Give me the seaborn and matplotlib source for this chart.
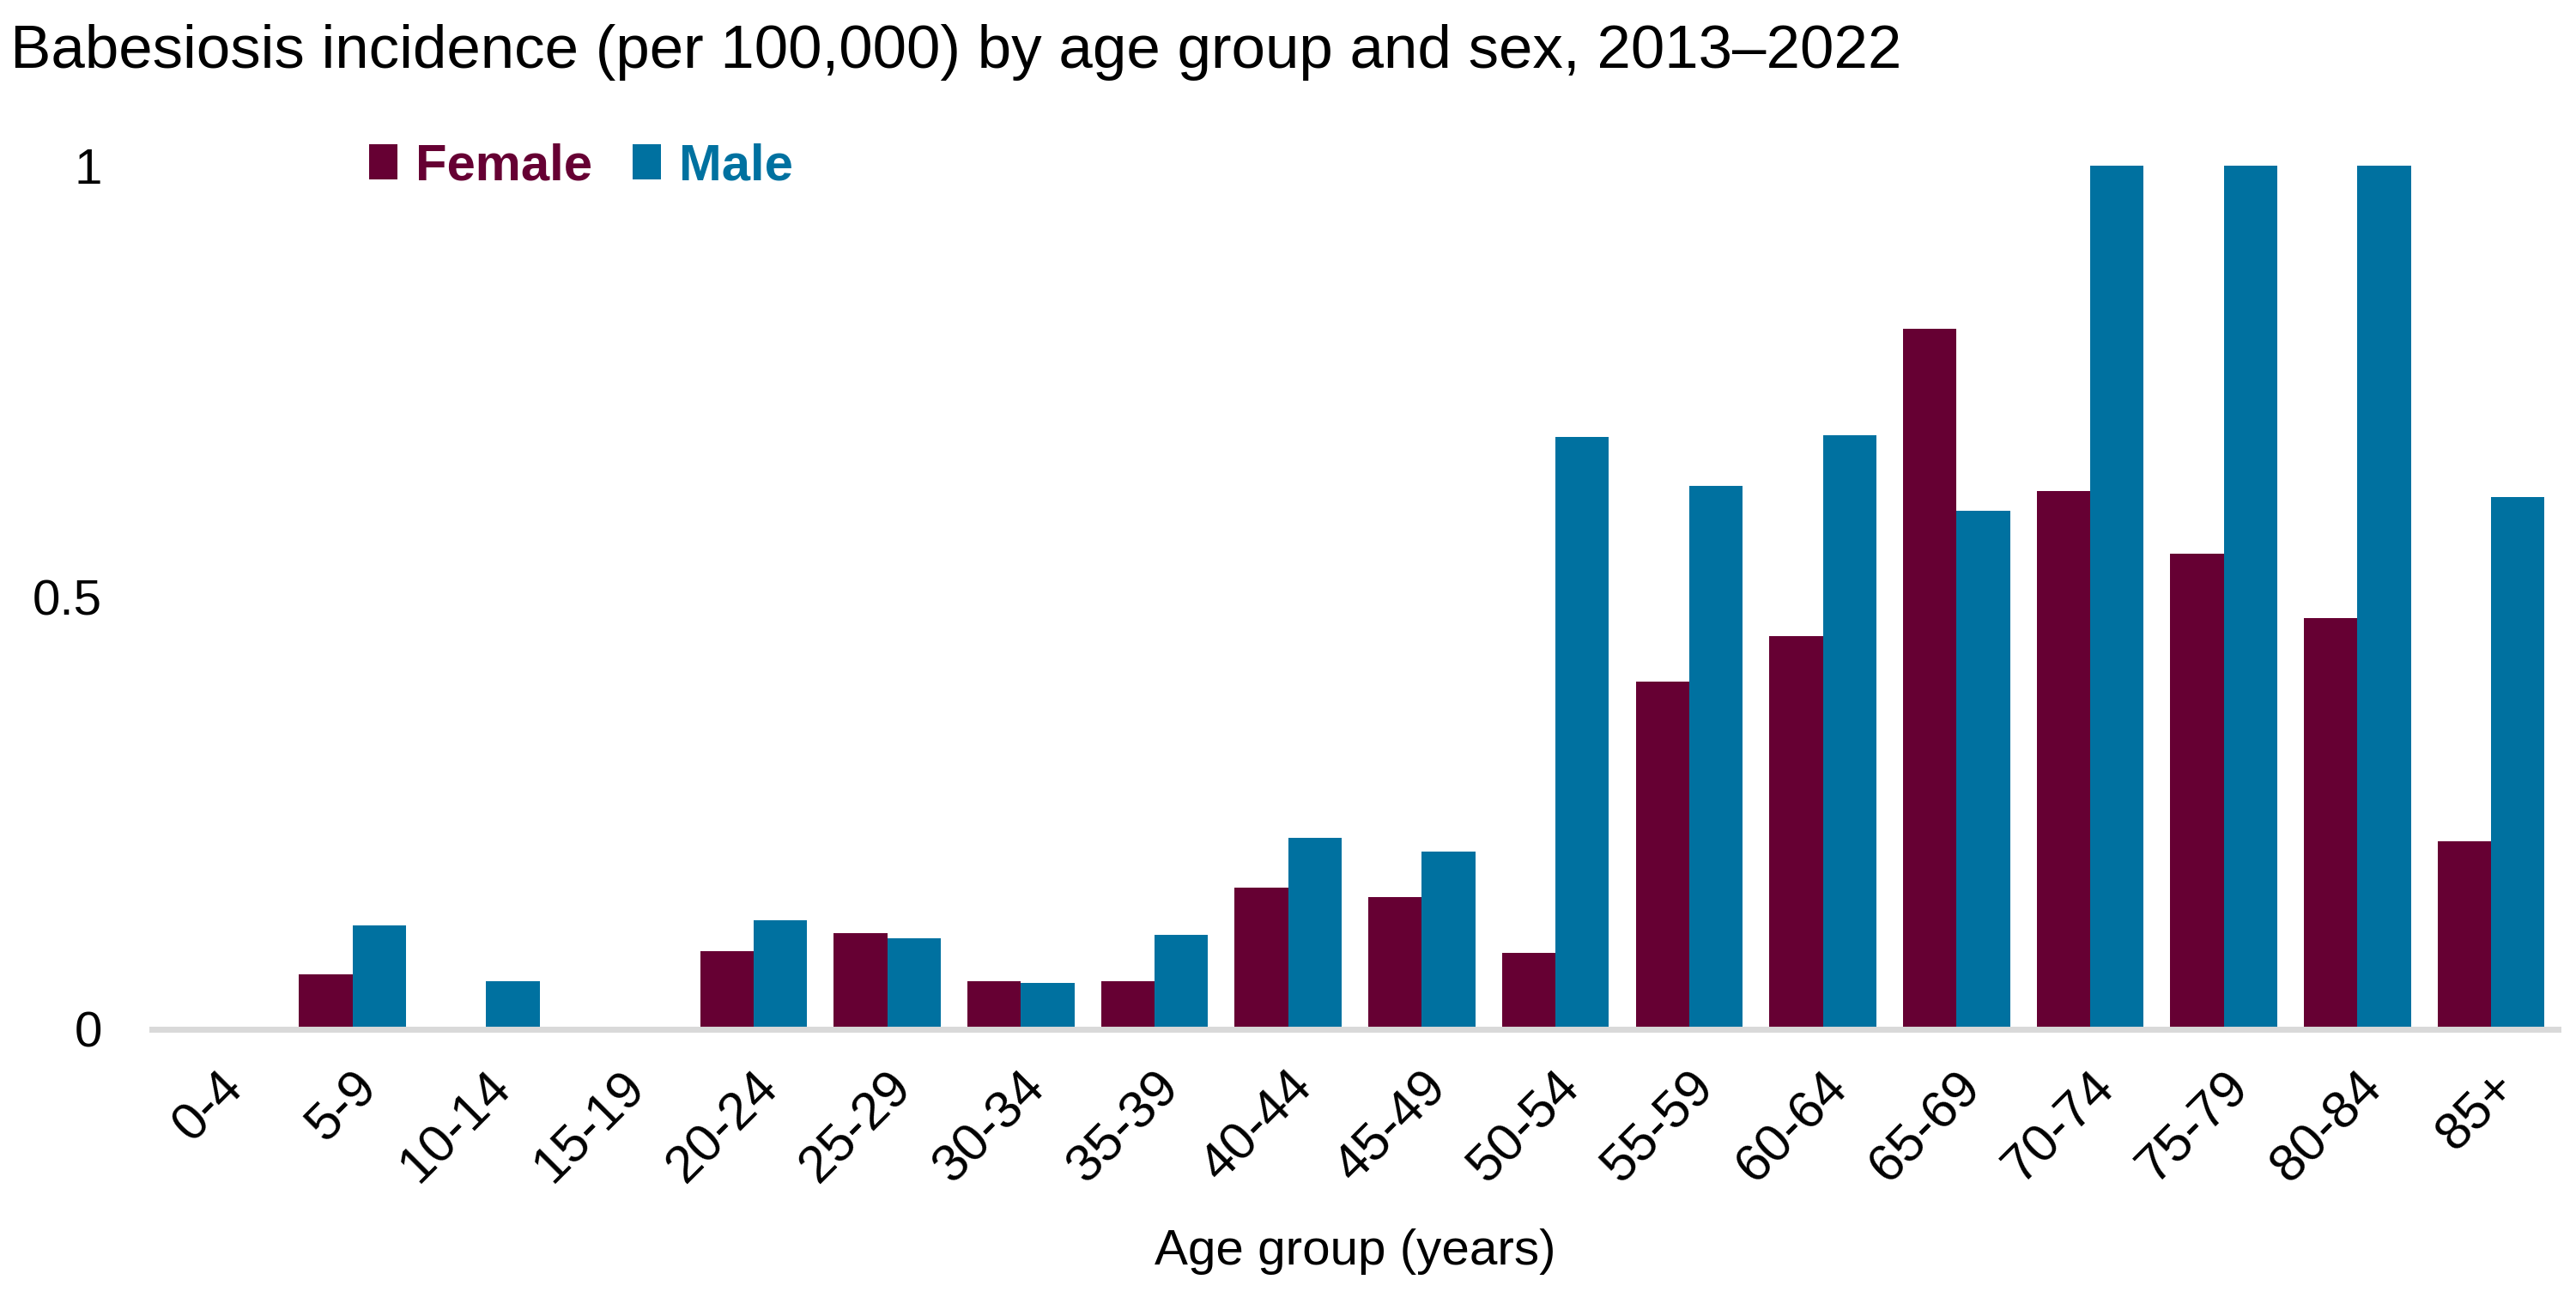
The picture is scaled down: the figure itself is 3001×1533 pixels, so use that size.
import seaborn as sns
import pandas as pd
import matplotlib.pyplot as plt

# values (per 100,000); bars above 1 are clipped at the axis top
age_groups = ['0-4', '5-9', '10-14', '15-19', '20-24', '25-29', '30-34', '35-39', '40-44',
              '45-49', '50-54', '55-59', '60-64', '65-69', '70-74', '75-79', '80-84', '85+']
female = [0, 0.063, 0, 0, 0.090, 0.111, 0.055, 0.055, 0.164,
          0.153, 0.088, 0.403, 0.455, 0.811, 0.623, 0.551, 0.476, 0.218]
male = [0, 0.120, 0.055, 0, 0.126, 0.105, 0.054, 0.109, 0.222,
        0.206, 0.686, 0.629, 0.688, 0.600, 1.0, 1.0, 1.0, 0.616]

df = pd.DataFrame({
    'age': age_groups * 2,
    'sex': ['Female'] * len(age_groups) + ['Male'] * len(age_groups),
    'rate': female + male,
})

sns.set_theme(style='white')
plt.rcParams['font.family'] = ['Liberation Sans', 'DejaVu Sans']
plt.rcParams['text.color'] = 'black'
plt.rcParams['axes.labelcolor'] = 'black'
plt.rcParams['xtick.color'] = 'black'
plt.rcParams['ytick.color'] = 'black'

colors = {'Female': '#660033', 'Male': '#0071A0'}

fig, ax = plt.subplots(figsize=(15.005, 7.665), dpi=200)
sns.barplot(data=df, x='age', y='rate', hue='sex', palette=colors,
            width=0.8, saturation=1, linewidth=0, ax=ax)

ax.set_ylim(0, 1)
ax.set_xlim(-0.5, len(age_groups) - 0.5)
ax.set_yticks([0, 0.5, 1])
ax.set_yticklabels(['0', '0.5', '1'])
ax.tick_params(axis='y', labelsize=21, length=0, pad=21)
ax.tick_params(axis='x', labelsize=22, length=0, pad=14)
plt.setp(ax.get_xticklabels(), rotation=45, ha='right', rotation_mode='anchor')

for side in ['top', 'right', 'left']:
    ax.spines[side].set_visible(False)
ax.spines['bottom'].set_color('#d9d9d9')
ax.spines['bottom'].set_linewidth(2.5)

ax.set_xlabel('Age group (years)', fontsize=21, labelpad=15)
ax.set_ylabel('')

fig.text(0.004, 0.96, 'Babesiosis incidence (per 100,000) by age group and sex, 2013\u20132022',
         fontsize=25.5, ha='left', va='center')

leg = ax.legend(loc='upper left', bbox_to_anchor=(0.071, 1.08), ncol=2, frameon=False,
                handlelength=0.55, handleheight=0.7, handletextpad=0.35, columnspacing=0.8,
                prop={'size': 21.5, 'weight': 'bold'})
for text, sex in zip(leg.get_texts(), ['Female', 'Male']):
    text.set_color(colors[sex])

plt.subplots_adjust(left=0.059, right=0.993, top=0.874, bottom=0.218)
fig.savefig('out.png', dpi=200)
